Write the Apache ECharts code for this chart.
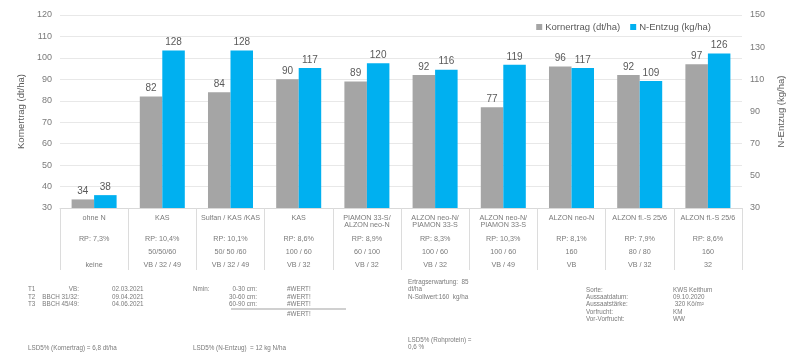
<!DOCTYPE html>
<html>
<head>
<meta charset="utf-8">
<script src="https://cdn.jsdelivr.net/npm/echarts@6/dist/echarts.min.js"></script>
<style>
  html, body { margin: 0; padding: 0; background: #fff; }
  #chart { width: 800px; height: 353px; }
</style>
</head>
<body>
<div id="chart"></div>
<script>
// Daten
var categories = ['ohne N', 'KAS', 'Sulfan / KAS /KAS', 'KAS', 'PIAMON 33-S/\nALZON neo-N',
    'ALZON neo-N/\nPIAMON 33-S', 'ALZON neo-N/\nPIAMON 33-S', 'ALZON neo-N', 'ALZON fl.-S 25/6', 'ALZON fl.-S 25/6'];
var rpValues = ['RP: 7,3%', 'RP: 10,4%', 'RP: 10,1%', 'RP: 8,6%', 'RP: 8,9%', 'RP: 8,3%', 'RP: 10,3%', 'RP: 8,1%', 'RP: 7,9%', 'RP: 8,6%'];
var doses = ['', '50/50/60', '50/ 50 /60', '100 / 60', '60 / 100', '100 / 60', '100 / 60', '160', '80 / 80', '160'];
var timings = ['keine', 'VB / 32 / 49', 'VB / 32 / 49', 'VB / 32', 'VB / 32', 'VB / 32', 'VB / 49', 'VB', 'VB / 32', '32'];
var kornertrag = [34, 82, 84, 90, 89, 92, 77, 96, 92, 97];
var nEntzug = [38, 128, 128, 117, 120, 116, 119, 117, 109, 126];

var grau = '#a5a5a5';
var blau = '#00b0f0';
var txt = '#595959';
var hell = '#7a7a7a';
var schrift = "'Liberation Sans', Arial, sans-serif";

// Fußtexte unter der Grafik
var footTexts = [
    [28, 289, 'T1', 'left'], [79, 289, 'VB:', 'right'], [112, 289, '02.03.2021', 'left'],
    [28, 297, 'T2', 'left'], [79, 297, 'BBCH 31/32:', 'right'], [112, 297, '09.04.2021', 'left'],
    [28, 304, 'T3', 'left'], [79, 304, 'BBCH 45/49:', 'right'], [112, 304, '04.06.2021', 'left'],
    [193, 289, 'Nmin:', 'left'],
    [257, 289, '0-30 cm:', 'right'], [257, 297, '30-60 cm:', 'right'], [257, 304, '60-90 cm:', 'right'],
    [287, 289, '#WERT!', 'left'], [287, 297, '#WERT!', 'left'], [287, 304, '#WERT!', 'left'], [287, 314, '#WERT!', 'left'],
    [28, 348, 'LSD5% (Kornertrag) = 6,8 dt/ha', 'left'],
    [193, 348, 'LSD5% (N-Entzug)  = 12 kg N/ha', 'left'],
    [408, 282, 'Ertragserwartung:  85', 'left'], [408, 289, 'dt/ha', 'left'], [408, 297, 'N-Sollwert:160  kg/ha', 'left'],
    [408, 340, 'LSD5% (Rohprotein) =', 'left'], [408, 347, '0,6 %', 'left'],
    [586, 290, 'Sorte:', 'left'], [673, 290, 'KWS Keithum', 'left'],
    [586, 297, 'Aussaatdatum:', 'left'], [673, 297, '09.10.2020', 'left'],
    [586, 304, 'Aussaatstärke:', 'left'], [673, 304, ' 320 Kö/m²', 'left'],
    [586, 312, 'Vorfrucht:', 'left'], [673, 312, 'KM', 'left'],
    [586, 319, 'Vor-Vorfrucht:', 'left'], [673, 319, 'WW', 'left']
];

var graphics = footTexts.map(function (t) {
    return {
        type: 'text',
        x: t[0],
        y: t[1],
        style: {
            text: t[2],
            fill: hell,
            fontSize: 6.3,
            fontFamily: schrift,
            align: t[3],
            verticalAlign: 'middle'
        }
    };
});
// Unterstrich unter 60-90 cm
graphics.push({
    type: 'line',
    shape: { x1: 231, y1: 309, x2: 346, y2: 309 },
    style: { stroke: hell, lineWidth: 0.7 }
});

var chart = echarts.init(document.getElementById('chart'));

var option = {
    backgroundColor: '#fff',
    textStyle: { fontFamily: schrift },
    animation: false,
    legend: {
        right: 84,
        top: 17,
        itemWidth: 6,
        itemHeight: 6,
        itemGap: 10,
        icon: 'rect',
        textStyle: { color: txt, fontSize: 9.5, padding: [0, 0, 0, -2] },
        data: ['Kornertrag (dt/ha)', 'N-Entzug (kg/ha)']
    },
    grid: { left: 60, right: 58, top: 15, bottom: 145 },
    xAxis: {
        type: 'category',
        data: categories,
        axisLine: { lineStyle: { color: '#d9d9d9' } },
        axisTick: { show: true, length: 62, lineStyle: { color: '#dcdcdc' } },
        axisLabel: {
            interval: 0,
            margin: 7,
            formatter: function (value, idx) {
                var parts = categories[idx].split('\n');
                var l1 = parts[0];
                var l2 = parts[1] || ' ';
                return '{n|' + l1 + '}\n{n|' + l2 + '}\n{s| }\n{r|' + rpValues[idx] + '}\n{r|' +
                    (doses[idx] || ' ') + '}\n{r|' + timings[idx] + '}';
            },
            rich: {
                n: { fontSize: 7.2, lineHeight: 7, color: hell },
                s: { fontSize: 4, lineHeight: 4 },
                r: { fontSize: 7.2, lineHeight: 13, color: hell }
            }
        }
    },
    yAxis: [{
        type: 'value',
        min: 30,
        max: 120,
        interval: 10,
        name: 'Kornertrag (dt/ha)',
        nameLocation: 'middle',
        nameGap: 28,
        nameTextStyle: { color: txt, fontSize: 9.5 },
        axisLabel: { color: hell, fontSize: 9, margin: 8 },
        axisLine: { show: false },
        axisTick: { show: false },
        splitLine: { lineStyle: { color: '#e8e8e8' } }
    }, {
        type: 'value',
        min: 30,
        max: 150,
        interval: 20,
        name: 'N-Entzug (kg/ha)',
        nameLocation: 'middle',
        nameGap: 31,
        nameRotate: 90,
        nameTextStyle: { color: txt, fontSize: 9.5 },
        axisLabel: { color: hell, fontSize: 9, margin: 8 },
        axisLine: { show: false },
        axisTick: { show: false },
        splitLine: { show: false }
    }],
    series: [{
        name: 'Kornertrag (dt/ha)',
        type: 'bar',
        yAxisIndex: 0,
        data: kornertrag,
        itemStyle: { color: grau },
        barGap: '0%',
        barCategoryGap: '34%',
        label: { show: true, position: 'top', color: txt, fontSize: 10, distance: 3 }
    }, {
        name: 'N-Entzug (kg/ha)',
        type: 'bar',
        yAxisIndex: 1,
        data: nEntzug,
        itemStyle: { color: blau },
        label: { show: true, position: 'top', color: txt, fontSize: 10, distance: 3 }
    }],
    graphic: graphics
};

chart.setOption(option);
</script>
</body>
</html>
